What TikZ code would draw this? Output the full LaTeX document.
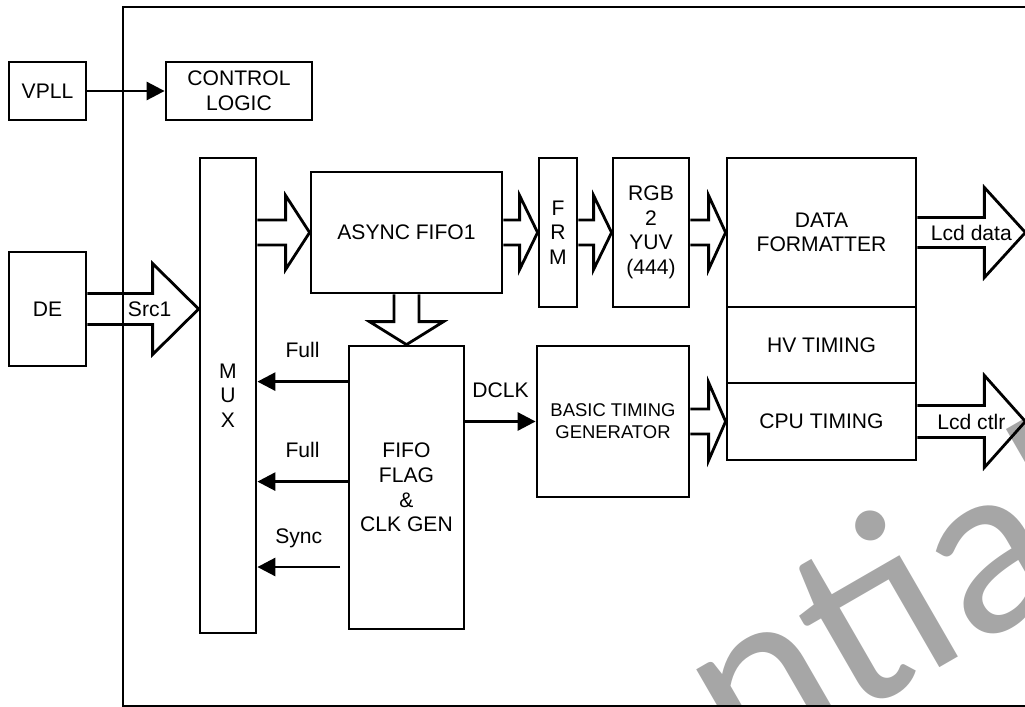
\documentclass[tikz,border=0pt]{standalone}
\usepackage{fontspec}
\setmainfont{Liberation Sans}
\newfontfamily\wmfont{Carlito}
\usetikzlibrary{arrows.meta, calc, positioning}
\definecolor{wmgray}{HTML}{A6A6A6}

\begin{document}
\begin{tikzpicture}[
  x=0.02cm, y=-0.02cm, line width=1.6pt,
  box/.style={draw, inner sep=0pt, align=center, font=\fontsize{12}{14}\selectfont},
  sz/.style 2 args={minimum width=#1*0.2mm, minimum height=#2*0.2mm},
  lbl/.style={inner sep=0pt, font=\fontsize{12}{14}\selectfont},
  sig/.style={-{Triangle[length=3.6mm, width=3.6mm]}},
  wm/.style={text=wmgray, inner sep=0pt, font=\wmfont\fontsize{142}{142}\selectfont},
  fatR/.style n args={3}{to path={($(\tikztostart)+(0,#1)$) -- ($(\tikztotarget)+(-#3,#1)$)
    -- ($(\tikztotarget)+(-#3,#2)$) -- (\tikztotarget) -- ($(\tikztotarget)+(-#3,-#2)$)
    -- ($(\tikztotarget)+(-#3,-#1)$) -- ($(\tikztostart)+(0,-#1)$)}},
  fatD/.style n args={3}{to path={($(\tikztostart)+(#1,0)$) -- ($(\tikztotarget)+(#1,-#3)$)
    -- ($(\tikztotarget)+(#2,-#3)$) -- (\tikztotarget) -- ($(\tikztotarget)+(-#2,-#3)$)
    -- ($(\tikztotarget)+(-#1,-#3)$) -- ($(\tikztostart)+(-#1,0)$)}}]
  \useasboundingbox (0,0) rectangle (1025,707);
  \clip (0,0) rectangle (1025,707);
  \node[wm, rotate=30, anchor=base east] (mark) at (1128,559) {ntial};
  \draw (1060,7) -| (123,706) -- (1060,706);

  \node[box, sz={77}{58}] (vpll) at (47.5,91) {VPLL};
  \node[box, sz={146}{58}] (ctrl) at (239,91) {CONTROL\\LOGIC};
  \node[box, sz={77}{114}] (de) at (47.5,309) {DE};
  \node[box, sz={56}{475}] (mux) at (228,395.5) {M\\U\\X};
  \node[box, sz={191}{121}] (fifo) at (406.5,232.5) {ASYNC FIFO1};
  \node[box, sz={38}{149}] (frm) at (558,232.5) {F\\R\\M};
  \node[box, sz={76}{149}] (rgb) at (651,232.5) {RGB\\2\\YUV\\(444)};
  \node[box, sz={189}{149}] (fmt) at (821.5,232.5) {DATA\\FORMATTER};
  \node[box, sz={189}{76}, below=-1.6pt of fmt] (hv) {HV TIMING};
  \node[box, sz={189}{77}, below=-1.6pt of hv] (cpu) {CPU TIMING};
  \node[box, sz={115}{283}] (flag) at (406.5,487.5) {FIFO\\FLAG\\\&\\CLK GEN};
  \node[box, sz={152}{151}, font=\fontsize{10.5}{12.5}\selectfont] (btg) at (613,421.5) {BASIC TIMING\\GENERATOR};

  \coordinate (srcin) at (mux.west |- de.east);
  \coordinate (muxout) at (mux.east |- fifo.west);
  \coordinate (lcdd) at ($(fmt.east)+(108,0)$);
  \coordinate (lcdc) at ($(cpu.east)+(108,0)$);
  \coordinate (full1) at ([yshift=-7.4mm]flag.north west);
  \coordinate (full2) at ([yshift=-27.4mm]flag.north west);
  \coordinate (syncsrc) at (340,567);

  \draw[sig] (vpll) -- (ctrl);
  \draw[fatR={15.5}{45.5}{46}] (de.east) to (srcin);
  \draw[fatR={12.5}{37}{24}] (muxout) to (fifo.west);
  \draw[fatR={12.5}{37}{18}] (fifo.east) to (frm.west);
  \draw[fatR={12.5}{37}{18}] (frm.east) to (rgb.west);
  \draw[fatR={12.5}{37}{17}] (rgb.east) to (fmt.west);
  \draw[fatR={15}{45}{41}] (fmt.east) to (lcdd);
  \draw[fatR={12.5}{39}{17}] (btg.east) to (cpu.west);
  \draw[fatR={16}{46}{41}] (cpu.east) to (lcdc);
  \draw[fatD={12.5}{37}{23}] (fifo.south) to (flag.north);
  \node[lbl] at ($(de.east)!.56!(srcin)$) {Src1};
  \node[lbl] at ($(fmt.east)!.5!(lcdd)$) {Lcd data};
  \node[lbl] at ($(cpu.east)!.5!(lcdc)$) {Lcd ctlr};

  \draw[sig] (full1) -- (mux.east |- full1) node[lbl, midway, above=4.5mm] {Full};
  \draw[sig] (full2) -- (mux.east |- full2) node[lbl, midway, above=4.5mm] {Full};
  \draw[sig] (syncsrc) -- (mux.east |- syncsrc) node[lbl, midway, above=3.5mm] {Sync};
  \draw[sig] (flag.east |- btg.west) -- (btg.west) node[lbl, midway, above=4.5mm] {DCLK};
\end{tikzpicture}
\end{document}
